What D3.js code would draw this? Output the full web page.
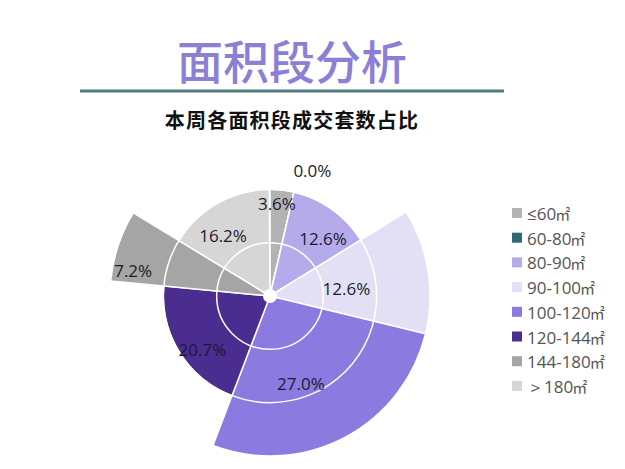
<!DOCTYPE html>
<html><head><meta charset="utf-8">
<script src="https://cdn.jsdelivr.net/npm/d3@7/dist/d3.min.js"></script>
<style>
html,body{margin:0;padding:0;background:#fff;}
svg{display:block;}
</style></head>
<body>
<svg id="chart" width="625" height="469"></svg>
<script>
// ---- data ----
const categories = ["≤60","60-80","80-90","90-100","100-120","120-144","144-180","＞180"];
const unit = "㎡";
const shares = [3.6, 0.0, 12.6, 12.6, 27.0, 20.7, 7.2, 16.2];
const radiusLevels = [2, 2, 2, 3, 3, 2, 3, 2];
const radialTicks = [1, 2];
const colors = ["#b3b3b3","#2e6b78","#b5aaea","#e3e0f5","#8b7ae0","#4b2c8f","#a5a5a5","#d6d6d6"];
const titleText = "面积段分析";
const subtitleText = "本周各面积段成交套数占比";

// ---- layout ----
const svg = d3.select("#chart");
const cx = 270, cy = 296;
const rScale = d3.scaleLinear().domain([0, 3]).range([0, 160]);
// label placement within each slice: [fraction of slice angle, fraction of slice radius]
const labelLayout = [[0.33,0.87],[0,1.24],[0.66,0.73],[0.57,0.48],[0.585,0.58],[0.41,0.81],[0.2,0.87],[0.36,0.72]];

// title
svg.append("text").attr("x", 292).attr("y", 59)
  .attr("text-anchor","middle").attr("dominant-baseline","central")
  .attr("font-family","'Noto Sans CJK SC'").attr("font-weight", 500)
  .attr("font-size", 46).attr("fill", "#8a80d6").text(titleText);
svg.append("line").attr("x1",80).attr("x2",504).attr("y1",91).attr("y2",91)
  .attr("stroke","#4e7b7c").attr("stroke-width",3);
svg.append("text").attr("x", 292).attr("y", 119)
  .attr("text-anchor","middle").attr("dominant-baseline","central")
  .attr("font-family","'Noto Sans CJK SC'").attr("font-weight", 700)
  .attr("font-size", 20).attr("letter-spacing", 1.2).attr("fill", "#111").text(subtitleText);

// pie
const pie = d3.pie().value(d => d).sort(null).startAngle(0).endAngle(2*Math.PI * d3.sum(shares)/100);
const arcsData = pie(shares);
const g = svg.append("g").attr("transform", `translate(${cx},${cy})`);

g.selectAll("path.slice").data(arcsData).enter().append("path")
  .attr("class","slice")
  .attr("d", (d,i) => d3.arc().innerRadius(0).outerRadius(rScale(radiusLevels[i]))(d))
  .attr("fill", (d,i) => colors[i])
  .attr("stroke", "#fff").attr("stroke-width", 1.5);

// grid circles
g.selectAll("circle.grid").data(radialTicks).enter().append("circle")
  .attr("r", d => rScale(d)).attr("fill","none")
  .attr("stroke","#fff").attr("stroke-width",1.5);
g.append("circle").attr("r", 7).attr("fill","#fff");

// labels
g.selectAll("text.lbl").data(arcsData).enter().append("text")
  .attr("class","lbl")
  .attr("transform", (d,i) => {
    const [ta, tr] = labelLayout[i];
    let a = d.startAngle + (d.endAngle - d.startAngle) * ta;
    if (d.endAngle - d.startAngle === 0) a = d.startAngle + 0.1;
    const r = rScale(radiusLevels[i]) * tr;
    return `translate(${r*Math.sin(a)},${-r*Math.cos(a)})`;
  })
  .attr("text-anchor","middle").attr("dominant-baseline","central")
  .attr("font-family","'Open Sans'").attr("font-size", 17)
  .attr("fill", "#1c1a2e")
  .text(d => d.data.toFixed(1) + "%");

// legend
const lg = svg.append("g").attr("transform","translate(512,213)");
const items = lg.selectAll("g").data(categories).enter().append("g")
  .attr("transform", (d,i) => `translate(0,${i*24.7})`);
items.append("rect").attr("x",0).attr("y",-5).attr("width",10).attr("height",10)
  .attr("fill", (d,i) => colors[i]);
const lt = items.append("text").attr("x", 15).attr("y", 0).attr("dominant-baseline","central")
  .attr("font-family","'Open Sans'").attr("font-size", 17).attr("fill","#555");
lt.append("tspan").text(d => d);
lt.append("tspan").attr("font-family","'Noto Sans CJK SC'").attr("font-size", 15).attr("dx", -1).text(unit);
</script>
</body></html>
